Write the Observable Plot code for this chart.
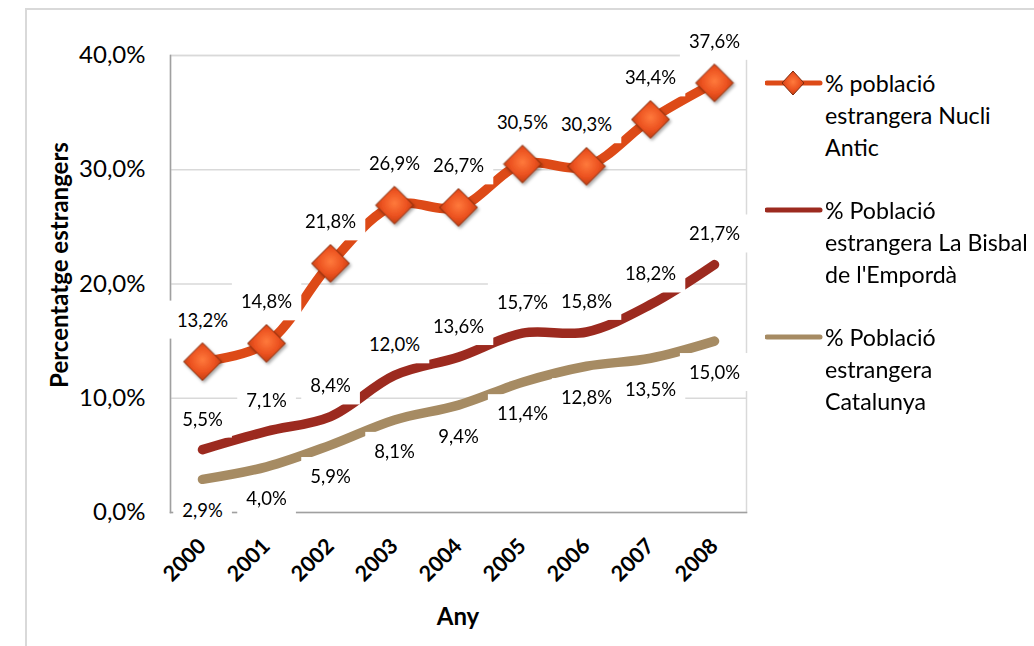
<!DOCTYPE html>
<html><head><meta charset="utf-8">
<script src="https://cdn.jsdelivr.net/npm/d3@7"></script>
<script src="https://cdn.jsdelivr.net/npm/@observablehq/plot@0.6"></script>
<style>
body{margin:0;background:#fff;overflow:hidden;font-family:Lato,"Open Sans",sans-serif;color:#000;}
#wrap{position:relative;width:1034px;height:646px;overflow:hidden;background:#fff;}
#border{position:absolute;left:25px;top:8px;width:1100px;height:700px;border:2px solid #d9d9d9;box-sizing:border-box;}
#chart{position:absolute;left:0;top:0;}
.ytitle{position:absolute;left:58px;top:265px;transform:translate(-50%,-50%) rotate(-90deg);white-space:nowrap;font-weight:bold;font-size:24px;}
.xtitle{position:absolute;left:458px;top:615px;transform:translate(-50%,-50%);white-space:nowrap;font-weight:bold;font-size:24px;}
.leg{position:absolute;left:765px;white-space:nowrap;}
.leg svg{position:absolute;left:0;}
.leg .txt{position:absolute;left:60px;top:0;font-size:23.2px;line-height:32px;}
</style></head>
<body>
<div id="wrap">
  <div id="border"></div>
  <div id="chart"></div>
  <div class="ytitle">Percentatge estrangers</div>
  <div class="xtitle">Any</div>
  <div id="legend"></div>
</div>
<script>
const years = [2000, 2001, 2002, 2003, 2004, 2005, 2006, 2007, 2008];
const nucli = [13.2, 14.8, 21.8, 26.9, 26.7, 30.5, 30.3, 34.4, 37.6];
const bisbal = [5.5, 7.1, 8.4, 12.0, 13.6, 15.7, 15.8, 18.2, 21.7];
const catalunya = [2.9, 4.0, 5.9, 8.1, 9.4, 11.4, 12.8, 13.5, 15.0];
const yTicks = [0, 10, 20, 30, 40];
const colors = ["#DD4A17", "#9C2A1F", "#A68B63"];
const legendLines = [
  ["% població", "estrangera Nucli", "Antic"],
  ["% Població", "estrangera La Bisbal", "de l'Empordà"],
  ["% Població", "estrangera", "Catalunya"]
];

const fmt = v => v.toFixed(1).replace(".", ",") + "%";
const toRows = vals => years.map((year, i) => ({year, value: vals[i]}));
const dN = toRows(nucli), dB = toRows(bisbal), dC = toRows(catalunya);

const svgNS = "http://www.w3.org/2000/svg";
const defsMark = () => {
  const defs = document.createElementNS(svgNS, "defs");
  defs.innerHTML = `
    <radialGradient id="dg" cx="50%" cy="45%" r="60%">
      <stop offset="0%" stop-color="#ff7a3c"/>
      <stop offset="55%" stop-color="#ec5220"/>
      <stop offset="100%" stop-color="#b8380d"/>
    </radialGradient>
    <filter id="sh" x="-30%" y="-30%" width="160%" height="160%">
      <feDropShadow dx="1.5" dy="2" stdDeviation="1.5" flood-color="#000" flood-opacity="0.35"/>
    </filter>`;
  return defs;
};

const chart = Plot.plot({
  width: 1034, height: 646,
  marginLeft: 170, marginRight: 288, marginTop: 55, marginBottom: 134,
  style: {fontFamily: "Lato, 'Open Sans', sans-serif", fontSize: "24px", color: "#000", background: "transparent"},
  x: {type: "point", domain: years, padding: 0.5},
  y: {domain: [0, 40]},
  marks: [
    defsMark,
    Plot.ruleY(yTicks.filter(d => d > 0), {stroke: "#d9d9d9", strokeWidth: 1.5}),
    Plot.frame({stroke: "#d9d9d9", strokeWidth: 1.5}),
    Plot.frame({anchor: "left", stroke: "#a0a0a0", strokeWidth: 1.5}),
    Plot.frame({anchor: "bottom", stroke: "#a0a0a0", strokeWidth: 1.5}),
    Plot.axisY({ticks: yTicks, tickSize: 0, tickPadding: 25, tickFormat: fmt, fontSize: 24, label: null}),
    Plot.axisX({tickRotate: -45, tickSize: 0, tickPadding: 30, fontSize: 21.5, fontWeight: "bold", label: null, tickFormat: d => String(d)}),
    Plot.line(dC, {x: "year", y: "value", stroke: colors[2], strokeWidth: 9.5, curve: "catmull-rom", strokeLinecap: "round", strokeLinejoin: "round"}),
    Plot.line(dB, {x: "year", y: "value", stroke: colors[1], strokeWidth: 9.5, curve: "catmull-rom", strokeLinecap: "round", strokeLinejoin: "round"}),
    Plot.line(dN, {x: "year", y: "value", stroke: colors[0], strokeWidth: 9.5, curve: "catmull-rom", strokeLinecap: "round", strokeLinejoin: "round"}),
    Plot.dot(dN, {x: "year", y: "value", symbol: "diamond2", r: 17, fill: "url(#dg)", stroke: "#7d2a0e", strokeWidth: 1}),
    Plot.text(dN, {x: "year", y: "value", text: d => fmt(d.value), dy: -41, fontSize: 18.5, fill: "#000"}),
    Plot.text(dB, {x: "year", y: "value", text: d => fmt(d.value), dy: -30, fontSize: 18.5, fill: "#000"}),
    Plot.text(dC, {x: "year", y: "value", text: d => fmt(d.value), dy: 32, fontSize: 18.5, fill: "#000"})
  ]
});
document.getElementById("chart").appendChild(chart);

// drop shadow on diamonds
chart.querySelectorAll('g[aria-label="dot"]').forEach(g => g.setAttribute("filter", "url(#sh)"));

// white label boxes behind data labels
chart.querySelectorAll('g[aria-label="text"]').forEach(g => {
  const texts = Array.from(g.querySelectorAll("text"));
  const first = texts[0];
  texts.forEach(t => {
    const b = t.getBBox();
    const r = document.createElementNS(svgNS, "rect");
    r.setAttribute("x", b.x - 9);
    r.setAttribute("y", b.y - 8);
    r.setAttribute("width", b.width + 18);
    r.setAttribute("height", b.height + 16);
    r.setAttribute("fill", "#fff");
    const tr = t.getAttribute("transform");
    if (tr) r.setAttribute("transform", tr);
    g.insertBefore(r, first);
  });
});

// legend
const legend = document.getElementById("legend");
const legTops = [67, 194, 321];
legendLines.forEach((lines, i) => {
  const div = document.createElement("div");
  div.className = "leg";
  div.style.top = legTops[i] + "px";
  const sw = document.createElementNS(svgNS, "svg");
  sw.setAttribute("width", 58); sw.setAttribute("height", 32);
  sw.style.top = "0px";
  const ln = document.createElementNS(svgNS, "line");
  ln.setAttribute("x1", 2); ln.setAttribute("x2", 55);
  ln.setAttribute("y1", 16); ln.setAttribute("y2", 16);
  ln.setAttribute("stroke", colors[i]); ln.setAttribute("stroke-width", 5);
  ln.setAttribute("stroke-linecap", "round");
  sw.appendChild(ln);
  if (i === 0) {
    const p = document.createElementNS(svgNS, "path");
    p.setAttribute("d", "M28,4 L39,16 L28,28 L17,16 Z");
    p.setAttribute("fill", "url(#dg)");
    p.setAttribute("stroke", "#7d2a0e");
    p.setAttribute("stroke-width", 1);
    sw.appendChild(p);
  }
  div.appendChild(sw);
  const txt = document.createElement("div");
  txt.className = "txt";
  txt.innerHTML = lines.map(s => s.replace(/&/g, "&amp;")).join("<br>");
  div.appendChild(txt);
  legend.appendChild(div);
});
</script>
</body></html>
